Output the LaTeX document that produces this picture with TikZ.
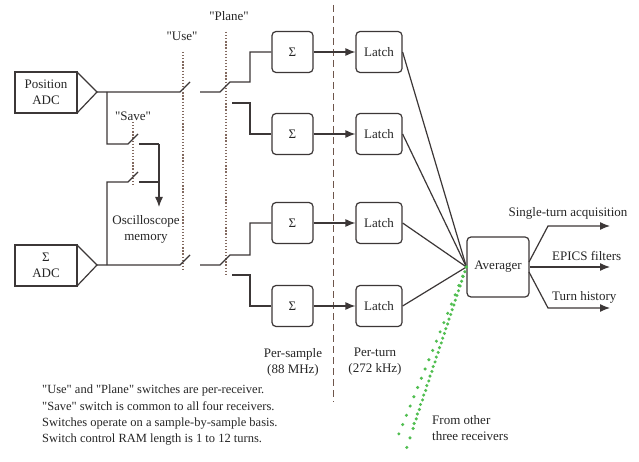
\documentclass[tikz,border=0pt]{standalone}
\usepackage{fontspec}
\setmainfont{Liberation Serif}
\usetikzlibrary{arrows.meta}
\definecolor{ln}{RGB}{60,55,55}
\definecolor{dashc}{RGB}{110,85,75}
\definecolor{dotc}{RGB}{130,105,95}
\definecolor{grn}{RGB}{80,190,80}
\newcommand{\qq}{\textquotedbl}
\begin{document}
\begin{tikzpicture}[x=1pt,y=-1pt,
  font=\fontsize{13}{16}\selectfont,
  every node/.style={text=black!85},
  box/.style={draw=ln, line width=1.2pt, rounded corners=4pt, minimum width=41pt, minimum height=41pt, inner sep=0pt},
  latchbox/.style={box, minimum width=46pt},
  avgbox/.style={box, minimum width=62pt, minimum height=60pt},
  wire/.style={draw=ln, line width=1.2pt},
  arr/.style={wire, -{Latex[length=10pt,width=8pt]}},
  ctl/.style={draw=dotc, line width=1.3pt, dash pattern=on 1.3pt off 1.8pt},
  lbl/.style={align=center, inner sep=0pt},
  grnline/.style={draw=grn, line width=3.4pt, line cap=round, dash pattern=on 0pt off 10pt}
]
\useasboundingbox[fill=white] (0,0) rectangle (639,462);

% ADCs
\draw[wire] (15,72) rectangle (77,113);
\draw[wire] (77,72) -- (97,92) -- (77,113);
\node[lbl] (padc) at (46,92) {Position\\ADC};
\coordinate (ptip) at (97,92);
\draw[wire] (15,245) rectangle (77,286);
\draw[wire] (77,245) -- (97,265) -- (77,286);
\node[lbl] (sadc) at (46,265) {Σ\\ADC};
\coordinate (stip) at (97,265);

% control lines
\draw[ctl] (183,52) -- (183,272);
\draw[ctl] (226,32) -- (226,274);
\draw[ctl] (133,122) -- (133,186);
\node[lbl] (use) at (182,36) {\qq Use\qq};
\node[lbl] (plane) at (229,16) {\qq Plane\qq};
\node[lbl] (save) at (133,116) {\qq Save\qq};

% sigma and latch boxes
\node[box] (s1) at (292.5,52) {Σ};
\node[box] (s2) at (292.5,134) {Σ};
\node[box] (s3) at (292.5,223) {Σ};
\node[box] (s4) at (292.5,306) {Σ};
\node[latchbox] (l1) at (379,52) {Latch};
\node[latchbox] (l2) at (379,134) {Latch};
\node[latchbox] (l3) at (379,223) {Latch};
\node[latchbox] (l4) at (379,306) {Latch};
\node[avgbox] (avg) at (498,267) {Averager};

% dashed divider
\draw[draw=dashc, line width=1pt, dash pattern=on 7pt off 4pt] (333,5) -- (333,402);

% position path
\draw[wire] (ptip) -- (180,92) -- (190,82);
\draw[wire] (200,92) -- (220,92) -- (230,82) -- (250,82) |- (s1.west);
\draw[wire] (232,103) -- (250,103) |- (s2.west);
% sigma path
\draw[wire] (stip) -- (180,265) -- (190,255);
\draw[wire] (200,265) -- (220,265) -- (230,255) -- (250,255) |- (s3.west);
\draw[wire] (232,275) -- (250,275) |- (s4.west);

% save branch
\node[lbl] (osc) at (146,229) {Oscilloscope\\memory};
\draw[wire] (107,92) -- (107,144) -- (128,144) -- (138,134);
\draw[wire] (139,144) -- (159,144);
\draw[arr] (159,144) -- (159,207);
\draw[wire] (107,265) -- (107,182) -- (128,182) -- (138,172);
\draw[wire] (139,182) -- (159,182);

% sigma -> latch
\foreach \i in {1,2,3,4} {\draw[arr] (s\i.east) -- (l\i.west);}
% latch -> averager
\foreach \i in {1,2,3,4} {\draw[wire] (l\i.east) -- (avg.west);}

% green lines from other receivers
\coordinate (g1) at (405,453);
\coordinate (g2) at (396,441);
\coordinate (g3) at (412,430);
\draw[grnline] (avg.west) -- (g1);
\draw[grnline] (avg.west) -- (g2);
\draw[grnline, dash phase=5pt] (avg.west) -- (g3);

% outputs
\coordinate (o1) at (610,226);
\coordinate (o2) at (610,267);
\coordinate (o3) at (610,308);
\draw[arr] (529,262) -- (548,226) -- (o1);
\draw[arr] (avg.east) -- (o2);
\draw[arr] (529,272) -- (548,308) -- (o3);
\node[lbl] (t1) at (568,213) {Single-turn acquisition};
\node[lbl, anchor=west] (t2) at (552,256) {EPICS filters};
\node[lbl, anchor=west] (t3) at (552,297) {Turn history};

% rate labels
\node[lbl] (ps) at (293,362) {Per-sample\\(88 MHz)};
\node[lbl] (pt) at (375,362) {Per-turn\\(272 kHz)};

% notes
\node[lbl, align=left, anchor=west] (from) at (432,428) {From other\\three receivers};
\node[align=left, anchor=north west, inner sep=0pt, font=\fontsize{12.5}{16.3}\selectfont] (notes) at (42,385) {\qq Use\qq{} and \qq Plane\qq{} switches are per-receiver.\\\qq Save\qq{} switch is common to all four receivers.\\Switches operate on a sample-by-sample basis.\\Switch control RAM length is 1 to 12 turns.};
\end{tikzpicture}
\end{document}
